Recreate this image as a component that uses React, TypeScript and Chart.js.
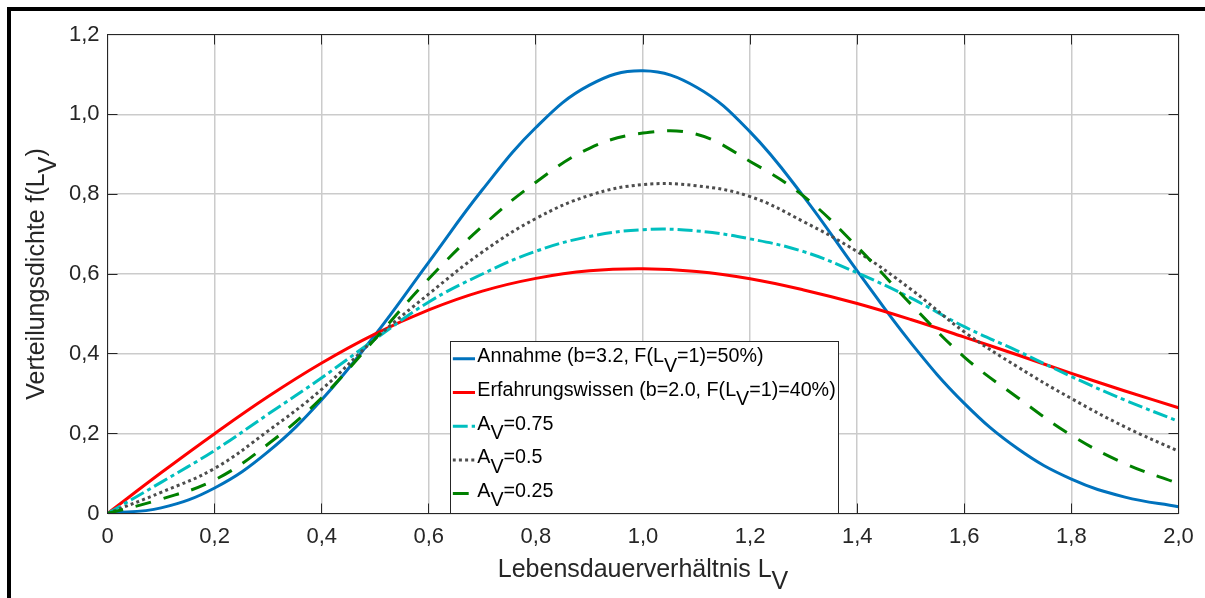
import React, { useEffect, useRef } from 'react';
import { Chart, registerables } from 'chart.js';

Chart.register(...registerables);

// ---------- data ----------
const lebensdauer = [0, 0.1, 0.2, 0.3, 0.4, 0.5, 0.6, 0.7, 0.8, 0.9, 1.0, 1.1, 1.2, 1.3, 1.4, 1.5, 1.6, 1.7, 1.8, 1.9, 2.0];
const annahme = [0, 0.014, 0.064, 0.155, 0.285, 0.448, 0.630, 0.811, 0.967, 1.073, 1.109, 1.068, 0.956, 0.794, 0.608, 0.428, 0.276, 0.162, 0.086, 0.041, 0.017];
const erfahrung = [0, 0.102, 0.200, 0.293, 0.377, 0.450, 0.510, 0.557, 0.589, 0.608, 0.613, 0.606, 0.588, 0.560, 0.526, 0.486, 0.442, 0.397, 0.351, 0.307, 0.265];
const av075 = [0, 0.078, 0.158, 0.249, 0.340, 0.437, 0.530, 0.600, 0.657, 0.694, 0.711, 0.708, 0.688, 0.656, 0.603, 0.540, 0.468, 0.407, 0.343, 0.284, 0.231];
const av050 = [0, 0.053, 0.113, 0.207, 0.311, 0.438, 0.550, 0.655, 0.739, 0.797, 0.824, 0.821, 0.794, 0.731, 0.656, 0.562, 0.455, 0.367, 0.288, 0.217, 0.156];
const av025 = [0, 0.036, 0.084, 0.174, 0.290, 0.438, 0.588, 0.720, 0.830, 0.915, 0.953, 0.950, 0.882, 0.795, 0.668, 0.525, 0.392, 0.290, 0.196, 0.125, 0.075];

const xTickValues = [0, 0.2, 0.4, 0.6, 0.8, 1.0, 1.2, 1.4, 1.6, 1.8, 2.0];
const yTickValues = [0, 0.2, 0.4, 0.6, 0.8, 1.0, 1.2];

// label parts: [text, isSubscript]
const legendLabels: [string, boolean][][] = [
  [['Annahme (b=3.2, F(L', false], ['V', true], ['=1)=50%)', false]],
  [['Erfahrungswissen (b=2.0, F(L', false], ['V', true], ['=1)=40%)', false]],
  [['A', false], ['V', true], ['=0.75', false]],
  [['A', false], ['V', true], ['=0.5', false]],
  [['A', false], ['V', true], ['=0.25', false]],
];
const xTitle: [string, boolean][] = [['Lebensdauerverhältnis L', false], ['V', true]];
const yTitle: [string, boolean][] = [['Verteilungsdichte f(L', false], ['V', true], [')', false]];

// ---------- styles ----------
const FONT = "'Liberation Sans', Arial, Helvetica, sans-serif";
const seriesValues = [annahme, erfahrung, av075, av050, av025];
const seriesColors = ['#0072BD', '#FF0000', '#00BFBF', '#4D4D4D', '#008000'];
const seriesDash: number[][] = [[], [], [15, 4, 4, 4], [3, 3.2], [16, 13]];
const seriesOrder = [5, 4, 3, 2, 1];
const AXIS_COLOR = '#262626';

const fmt = (v: number) => (Math.abs(v) < 1e-9 ? '0' : Number(v).toFixed(1).replace('.', ','));

function drawRich(ctx: CanvasRenderingContext2D, parts: [string, boolean][], x: number, y: number, shift: number) {
  let cx = x;
  for (const [t, sub] of parts) {
    ctx.fillText(t, cx, sub ? y + shift : y);
    cx += ctx.measureText(t).width;
  }
  return cx - x;
}
function richWidth(ctx: CanvasRenderingContext2D, parts: [string, boolean][]) {
  return parts.reduce((s, [t]) => s + ctx.measureText(t).width, 0);
}
const align = (p: number) => Math.round(p - 0.5) + 0.5;

const decorPlugin = {
  id: 'decor',
  afterDraw(chart: any) {
    const { ctx, chartArea: a, scales } = chart;
    ctx.save();
    // axes box
    ctx.strokeStyle = AXIS_COLOR;
    ctx.lineWidth = 1;
    ctx.setLineDash([]);
    ctx.strokeRect(a.left, a.top, a.right - a.left, a.bottom - a.top);
    // inward tick marks on all four sides
    const TL = 10;
    ctx.beginPath();
    for (const v of xTickValues) {
      const px = align(scales.x.getPixelForValue(v));
      ctx.moveTo(px, a.bottom); ctx.lineTo(px, a.bottom - TL);
      ctx.moveTo(px, a.top); ctx.lineTo(px, a.top + TL);
    }
    for (const v of yTickValues) {
      const py = align(scales.y.getPixelForValue(v));
      ctx.moveTo(a.left, py); ctx.lineTo(a.left + TL, py);
      ctx.moveTo(a.right, py); ctx.lineTo(a.right - TL, py);
    }
    ctx.stroke();

    // legend
    const lx = 450.5, ly = 341.5, lw = 388, lh = 172;
    ctx.fillStyle = '#ffffff';
    ctx.fillRect(lx, ly, lw, lh);
    ctx.strokeStyle = AXIS_COLOR;
    ctx.lineWidth = 1;
    ctx.strokeRect(lx, ly, lw, lh);
    const lfs = 19.7;
    ctx.font = `${lfs}px ${FONT}`;
    ctx.textBaseline = 'alphabetic';
    ctx.textAlign = 'left';
    legendLabels.forEach((parts, i) => {
      const base = 362.3 + i * 33.7;
      ctx.save();
      ctx.beginPath();
      ctx.rect(452.5, base - 12, 23, 16);
      ctx.clip();
      ctx.strokeStyle = seriesColors[i];
      ctx.lineWidth = 3;
      ctx.setLineDash(seriesDash[i]);
      ctx.beginPath();
      ctx.moveTo(452.7, base - 3.5);
      ctx.lineTo(475, base - 3.5);
      ctx.stroke();
      ctx.restore();
      ctx.fillStyle = '#000000';
      drawRich(ctx, parts, 477.3, base, lfs * 0.47);
    });

    // axis titles
    const tfs = 25;
    ctx.font = `${tfs}px ${FONT}`;
    ctx.fillStyle = AXIS_COLOR;
    const cx = (a.left + a.right) / 2;
    const xw = richWidth(ctx, xTitle);
    drawRich(ctx, xTitle, cx - xw / 2, 577, tfs * 0.47);

    const cy = (a.top + a.bottom) / 2;
    const yw = richWidth(ctx, yTitle);
    ctx.save();
    ctx.translate(44, cy);
    ctx.rotate(-Math.PI / 2);
    drawRich(ctx, yTitle, -yw / 2, 0, tfs * 0.47);
    ctx.restore();

    // outer figure frame (left and top edges)
    ctx.fillStyle = '#000000';
    ctx.fillRect(7, 7, 4, 598);
    ctx.fillRect(7, 7, 1198, 4);
    ctx.restore();
  },
};

export default function App() {
  const ref = useRef<HTMLCanvasElement>(null);
  useEffect(() => {
    if (!ref.current) return;
    const datasets = seriesValues.map((vals, i) => ({
      label: legendLabels[i].map((p) => p[0]).join(''),
      data: lebensdauer.map((x, j) => ({ x, y: vals[j] })),
      borderColor: seriesColors[i],
      backgroundColor: seriesColors[i],
      borderWidth: 3,
      borderDash: seriesDash[i],
      pointRadius: 0,
      tension: 0.4,
      fill: false,
      order: seriesOrder[i],
    }));
    const tickFont = { family: FONT, size: 22 };
    const chart = new Chart(ref.current, {
      type: 'line',
      data: { datasets },
      options: {
        animation: false,
        responsive: false,
        devicePixelRatio: 1,
        layout: { padding: { top: 34.5, right: 26.5, bottom: 0, left: 0 } },
        plugins: { legend: { display: false }, tooltip: { enabled: false } },
        scales: {
          x: {
            type: 'linear',
            min: 0,
            max: 2,
            afterFit: (s: any) => { s.height = 84.5; },
            afterBuildTicks: (s: any) => { s.ticks = xTickValues.map((value) => ({ value })); },
            border: { display: false },
            grid: { color: '#cbcbcb', lineWidth: 1.5, drawTicks: false },
            ticks: { padding: 10, color: AXIS_COLOR, font: tickFont, maxRotation: 0, autoSkip: false, callback: (v: any) => fmt(Number(v)) },
          },
          y: {
            type: 'linear',
            min: 0,
            max: 1.2,
            afterFit: (s: any) => { s.width = 107.5; },
            afterBuildTicks: (s: any) => { s.ticks = yTickValues.map((value) => ({ value })); },
            border: { display: false },
            grid: { color: '#cbcbcb', lineWidth: 1.5, drawTicks: false },
            ticks: { padding: 8, color: AXIS_COLOR, font: tickFont, autoSkip: false, callback: (v: any) => fmt(Number(v)) },
          },
        },
      },
      plugins: [decorPlugin],
    } as any);
    return () => chart.destroy();
  }, []);
  return (
    <div style={{ position: 'fixed', left: 0, top: 0, width: 1205, height: 598, background: '#ffffff' }}>
      <canvas ref={ref} width={1205} height={598} style={{ display: 'block' }} />
    </div>
  );
}
